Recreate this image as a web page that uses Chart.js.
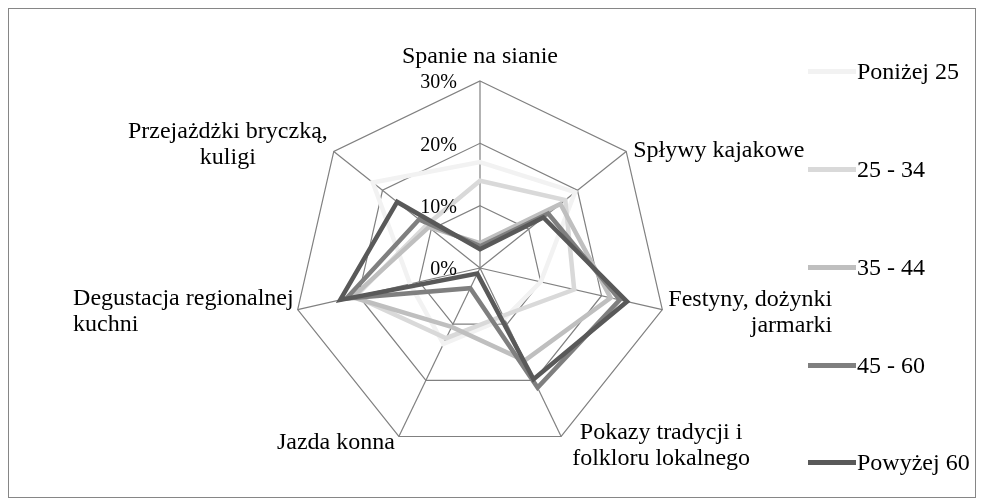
<!DOCTYPE html>
<html lang="pl">
<head>
<meta charset="utf-8">
<title>Radar</title>
<script src="https://cdn.jsdelivr.net/npm/chart.js@4.4.1/dist/chart.umd.min.js"></script>
<style>
  body { margin: 0; background: #fff; font-family: "Liberation Serif", "Times New Roman", serif; }
  #wrap { position: relative; width: 982px; height: 504px; overflow: hidden; }
  #frame { position: absolute; left: 8px; top: 8px; width: 966px; height: 488px; border: 1px solid #868686; }
  canvas { position: absolute; left: 0; top: 0; }
  #legend { position: absolute; left: 808px; top: 23px; }
  .item { height: 97.75px; display: flex; align-items: center; font-size: 24px; color: #000; white-space: nowrap; }
  .swatch { width: 48px; height: 5px; margin-right: 1px; }
</style>
</head>
<body>
<div id="wrap">
  <div id="frame"></div>
  <canvas id="radar" width="982" height="504"></canvas>
  <div id="legend"></div>
</div>
<script>
// kategorie (osie wykresu)
const categories = [
  ['Spanie na sianie'],
  ['Spływy kajakowe'],
  ['Festyny, dożynki', 'jarmarki'],
  ['Pokazy tradycji i', 'folkloru lokalnego'],
  ['Jazda konna'],
  ['Degustacja regionalnej', 'kuchni'],
  ['Przejażdżki bryczką,', 'kuligi']
];
const tickValues = [0, 10, 20, 30];

// serie - udział w % wg wieku
const seriesNames = ['Poniżej 25', '25 - 34', '35 - 44', '45 - 60', 'Powyżej 60'];
const seriesColors = ['#f2f2f2', '#d9d9d9', '#bfbfbf', '#7f7f7f', '#595959'];
const ponizej25 = [17, 19.5, 10, 9, 13.5, 11.5, 22];
const wiek25_34 = [14, 17.5, 15.5, 8.5, 12.5, 20.5, 11];
const wiek35_44 = [4, 16.5, 21.5, 16.5, 10.5, 21, 10.5];
const wiek45_60 = [3.5, 14, 23, 21.3, 3.6, 22, 12.5];
const powyzej60 = [3, 13, 24.2, 19.8, 1, 23, 17];
const seriesValues = [ponizej25, wiek25_34, wiek35_44, wiek45_60, powyzej60];

// ułożenie podpisów osi względem wierzchołka
const labelLayout = [
  { dx: 0, dy: -24, anchor: 'center', lines: 'center' },
  { dx: 7, dy: -1, anchor: 'left', lines: 'left' },
  { dx: 6, dy: -10, anchor: 'left', lines: 'right' },
  { dx: 11, dy: -4, anchor: 'left', lines: 'center' },
  { dx: -4, dy: 6, anchor: 'right', lines: 'right' },
  { dx: -4, dy: -11, anchor: 'right', lines: 'left' },
  { dx: -6, dy: -20, anchor: 'right', lines: 'center' }
];
const serif = '"Liberation Serif", "Times New Roman", serif';

const radarText = {
  id: 'radarText',
  afterDraw(chart) {
    const scale = chart.scales.r;
    const ctx = chart.ctx;
    ctx.save();
    ctx.fillStyle = '#000';
    ctx.textBaseline = 'middle';

    // podpisy osi
    ctx.font = '24px ' + serif;
    ctx.textAlign = 'left';
    categories.forEach((lines, i) => {
      const p = scale.getPointPosition(i, scale.drawingArea);
      const lay = labelLayout[i];
      const widths = lines.map(t => ctx.measureText(t).width);
      const maxW = Math.max(...widths);
      let x0 = p.x + lay.dx;
      if (lay.anchor === 'right') x0 -= maxW;
      if (lay.anchor === 'center') x0 -= maxW / 2;
      lines.forEach((t, j) => {
        let x = x0;
        if (lay.lines === 'right') x += maxW - widths[j];
        if (lay.lines === 'center') x += (maxW - widths[j]) / 2;
        ctx.fillText(t, x, p.y + lay.dy + j * 26);
      });
    });

    // etykiety skali
    ctx.font = '20px ' + serif;
    ctx.textAlign = 'right';
    tickValues.forEach(v => {
      const p = scale.getPointPositionForValue(0, v);
      ctx.fillText(v + '%', p.x - 23, p.y + 2);
    });
    ctx.restore();
  }
};

new Chart(document.getElementById('radar'), {
  type: 'radar',
  data: {
    labels: categories,
    datasets: seriesNames.map((name, i) => ({
      label: name,
      data: seriesValues[i],
      borderColor: seriesColors[i],
      backgroundColor: 'transparent',
      borderWidth: 4.5,
      borderJoinStyle: 'miter',
      fill: false,
      pointRadius: 0,
      pointHoverRadius: 0,
      tension: 0,
      order: seriesNames.length - i
    }))
  },
  options: {
    responsive: false,
    animation: false,
    layout: { padding: { left: 293, right: 315, top: 81, bottom: 49 } },
    plugins: { legend: { display: false }, tooltip: { enabled: false } },
    scales: {
      r: {
        min: 0,
        max: 30,
        ticks: { stepSize: 10, display: false },
        grid: { color: '#808080', lineWidth: 1.2 },
        angleLines: { color: '#808080', lineWidth: 1.2 },
        pointLabels: { display: false }
      }
    }
  },
  plugins: [radarText]
});

// legenda
document.getElementById('legend').innerHTML = seriesNames.map((name, i) => `
  <div class="item"><span class="swatch" style="background:${seriesColors[i]}"></span>${name}</div>
`).join('');
</script>
</body>
</html>
